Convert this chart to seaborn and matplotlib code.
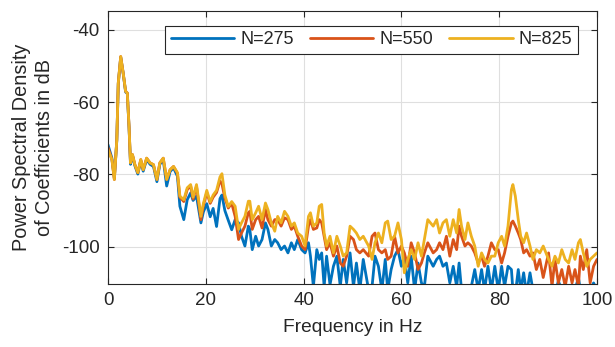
import numpy as np
import pandas as pd
import seaborn as sns
import matplotlib
matplotlib.use("Agg")
import matplotlib.pyplot as plt

# ---------------- data ----------------
freq = [0.0, 0.8, 1.3, 1.8, 2.1, 2.6, 3.1, 3.6, 3.95, 4.3, 4.6, 5.0, 5.5, 6.1, 6.7, 7.2, 7.9, 8.6, 9.3, 10.0,
        10.6, 11.3, 12.0, 12.7, 13.4,
        14.2, 14.7, 15.5, 16.2, 16.9, 17.4, 18.1, 19.0, 19.5, 20.2, 20.9, 21.5, 22.2, 22.9, 23.3, 23.9, 24.6, 25.3,
        26.0, 26.7, 27.3, 28.0, 28.7, 29.0, 29.5, 30.2, 30.8, 31.5, 32.2, 32.7, 33.4, 34.1, 34.7, 35.4, 36.1, 36.8,
        37.5, 38.1, 38.8,
        39.6, 40.3, 41.0, 41.4, 42.0, 42.7, 43.2, 43.7, 44.2, 44.7, 45.4, 46.1, 46.8, 47.5, 48.1, 48.8, 49.5, 50.2,
        50.8, 51.5, 52.2,
        53.3, 54.0, 54.6, 55.3, 56.0, 56.7, 57.2, 57.9, 58.6, 59.3, 60.0, 60.6, 61.3, 62.0, 62.7, 63.4, 64.1, 64.7, 65.4,
        66.5, 67.2, 67.8, 68.5, 69.2, 69.9, 70.6, 71.3, 71.8, 72.3, 73.0, 73.6, 74.3, 75.0, 75.7, 76.4, 77.0, 77.7,
        78.4, 79.1,
        79.8, 80.5, 81.1, 81.8, 82.5, 82.8, 83.3, 83.9, 84.4, 85.0, 85.6, 86.3, 86.9, 87.6, 88.3, 89.0,
        90.1, 90.8, 91.4, 92.1, 92.8, 93.5, 94.2, 94.9, 95.5, 96.2, 96.6, 97.2, 97.9, 98.6, 99.3, 100.0]

psd_275 = [-71.8, -75.5, -81.0, -70.6, -54.9, -47.6, -52.0, -57.2, -57.6, -67.0, -77.2, -74.8, -77.6, -79.9, -76.2,
           -79.1, -75.9, -77.2, -77.8, -82.0, -77.2, -76.0, -83.2, -79.2, -78.2,
           -80.5, -88.8, -92.5, -87.0, -85.1, -87.2, -86.0, -93.4, -90.4, -88.1, -91.7, -89.4, -94.4, -86.7, -85.7,
           -90.0, -92.7, -95.3,
           -92.5, -93.4, -97.1, -99.8, -94.3, -95.2, -100.8, -97.1, -99.8, -98.0, -93.4, -95.2, -99.8, -98.0, -98.9,
           -100.8, -99.8, -101.7, -98.9, -100.8, -98.0,
           -100.8, -101.7, -98.9, -102.6, -111.0, -100.8, -103.5, -101.7, -111.0, -102.6, -110.5, -105.4, -102.6,
           -111.0, -103.5, -110.0, -101.7, -111.0, -104.5, -112.0, -103.5,
           -112.0, -111.0, -102.6, -105.4, -112.0, -103.5, -112.0, -106.3, -102.6, -100.8, -105.4, -102.6, -110.0,
           -102.6, -112.0, -104.5, -110.0, -111.0, -102.6,
           -105.4, -103.5, -102.6, -105.4, -104.5, -110.0, -105.4, -111.0, -104.5, -112.0, -111.0, -112.0, -111.0,
           -106.3, -112.0, -106.3, -112.0, -105.4, -112.0, -105.4,
           -112.0, -105.4, -111.0, -105.4, -106.3, -112.0, -113.0, -106.3, -112.0, -107.2, -113.0, -107.2, -112.0,
           -113.0, -113.0, -113.0,
           -112.0, -111.0, -113.0, -109.5, -112.0, -111.0, -113.0, -110.5, -112.0, -108.5, -112.0, -111.0, -113.0,
           -112.0, -110.0, -112.0]

psd_550 = [-72.5, -75.9, -81.4, -70.4, -54.7, -47.4, -51.9, -57.0, -57.5, -66.7, -76.8, -74.5, -77.3, -79.5, -75.9,
           -78.7, -75.5, -76.8, -77.3, -81.4, -76.8, -75.5, -81.4, -78.7, -77.8,
           -79.7, -86.3, -87.5, -84.2, -83.2, -86.8, -83.3, -92.5, -88.6, -85.0, -88.0, -86.3, -85.0, -81.8, -82.6,
           -86.5, -89.3, -88.0,
           -91.6, -98.0, -96.2, -94.3, -90.6, -90.2, -95.2, -92.5, -91.6, -94.8, -89.7, -92.5, -94.3, -92.5, -92.5,
           -94.3, -92.0, -92.5, -95.2, -94.3, -97.1,
           -99.8, -100.8, -94.3, -92.5, -95.2, -94.8, -92.5, -93.4, -97.1, -100.8, -98.9, -102.6, -99.8, -104.5,
           -105.4, -102.6, -97.1, -98.0, -100.8, -101.7, -100.8,
           -102.6, -97.1, -96.2, -100.8, -101.7, -100.8, -103.5, -102.6, -97.1, -101.7, -99.8, -101.7, -105.4,
           -98.9, -101.7, -106.3, -104.5, -101.7, -98.9,
           -101.7, -100.8, -98.9, -100.8, -97.1, -102.6, -98.0, -100.8, -94.3, -97.1, -99.8, -98.9, -99.8, -101.7,
           -104.5, -102.6, -105.4, -102.6, -98.9, -100.8,
           -100.8, -104.5, -101.7, -97.1, -93.4, -92.9, -94.3, -96.2, -98.0, -101.7, -100.8, -102.6, -101.7, -106.3,
           -103.5, -108.5,
           -101.7, -111.0, -103.5, -110.0, -106.3, -111.0, -105.4, -110.0, -106.3, -111.0, -102.6, -106.3, -100.8,
           -110.0, -105.4, -103.5]

psd_825 = [-73.1, -75.9, -81.4, -70.4, -54.7, -47.4, -51.9, -57.0, -57.5, -66.7, -76.8, -74.5, -77.3, -79.5, -75.9,
           -78.7, -75.5, -76.8, -77.3, -81.4, -76.8, -75.5, -81.4, -78.7, -77.8,
           -79.5, -86.0, -87.0, -83.7, -82.8, -86.3, -82.8, -91.6, -88.1, -84.4, -87.6, -85.7, -84.4, -80.7, -79.8,
           -85.7, -88.9, -87.5,
           -88.8, -95.2, -93.4, -91.6, -87.4, -87.4, -92.5, -90.6, -88.8, -92.5, -87.9, -89.7, -93.4, -95.7, -91.6,
           -93.4, -90.2, -91.6, -94.3, -93.4, -96.2,
           -97.1, -99.8, -91.6, -90.6, -94.3, -93.4, -88.8, -88.3, -96.2, -99.8, -97.1, -101.7, -97.1, -99.8,
           -102.6, -101.7, -94.3, -95.2, -96.2, -98.0, -97.1,
           -99.8, -103.5, -98.9, -96.2, -98.9, -93.4, -92.9, -98.0, -97.1, -93.4, -98.0, -107.2, -103.5, -100.8,
           -103.5, -98.9, -102.6, -98.0, -92.5,
           -94.3, -92.5, -96.2, -93.4, -92.5, -97.1, -92.5, -96.2, -89.7, -94.3, -98.0, -93.4, -97.1, -99.8,
           -105.4, -101.7, -103.5, -104.5, -102.6, -102.6,
           -98.9, -97.1, -99.8, -94.3, -84.2, -82.8, -86.0, -92.5, -97.1, -98.9, -96.2, -99.8, -103.5, -100.8,
           -101.7, -99.8,
           -103.5, -105.4, -102.6, -104.5, -100.8, -103.5, -104.5, -100.8, -103.5, -98.9, -98.0, -101.7, -105.4,
           -103.5, -102.6, -101.7]

series_names = ["N=275", "N=550", "N=825"]
series_colors = ["#0072BD", "#D95319", "#EDB120"]
x_ticks = [0, 20, 40, 60, 80, 100]
y_ticks = [-100, -80, -60, -40]

df = pd.concat([
    pd.DataFrame({"Frequency": freq, "PSD": vals, "Series": name})
    for name, vals in zip(series_names, [psd_275, psd_550, psd_825])
], ignore_index=True)

# ---------------- style ----------------
sns.set_style("whitegrid")
plt.rcParams["font.family"] = ["Liberation Sans", "DejaVu Sans"]
plt.rcParams["font.size"] = 13.5
plt.rcParams["axes.unicode_minus"] = False

fig, ax = plt.subplots(figsize=(6.15, 3.47), dpi=100)
fig.subplots_adjust(left=108 / 615, right=597 / 615, top=1 - 11 / 347, bottom=1 - 284 / 347)

sns.lineplot(data=df, x="Frequency", y="PSD", hue="Series", hue_order=series_names,
             palette=series_colors, estimator=None, sort=False, linewidth=2.0, ax=ax)

ax.set_xlim(0, 100)
ax.set_ylim(-110.3, -34.8)
ax.set_xticks(x_ticks)
ax.set_yticks(y_ticks)
ax.set_xlabel("Frequency in Hz", fontsize=13.8, color="#262626", labelpad=7)
ax.set_ylabel("Power Spectral Density\nof Coefficients in dB", fontsize=14.3, color="#262626",
              labelpad=6, linespacing=1.25)

ax.grid(True, color="#dfdfdf", linewidth=0.8)
for s in ax.spines.values():
    s.set_visible(True)
    s.set_color("#262626")
    s.set_linewidth(0.8)
ax.tick_params(axis="both", direction="in", length=4, width=0.8, colors="#262626",
               labelsize=13.5, top=True, right=True, bottom=True, left=True, pad=6)

leg = ax.legend(loc="upper right", bbox_to_anchor=(0.961, 0.945), borderaxespad=0,
                ncol=3, frameon=True, fancybox=False, framealpha=1, edgecolor="#262626",
                fontsize=13, handlelength=3.5, handletextpad=0.35, columnspacing=0.9,
                borderpad=0.3, title=None)
leg.get_frame().set_linewidth(0.8)
for line in leg.get_lines():
    line.set_linewidth(2.0)

fig.savefig("out.png", dpi=100)
